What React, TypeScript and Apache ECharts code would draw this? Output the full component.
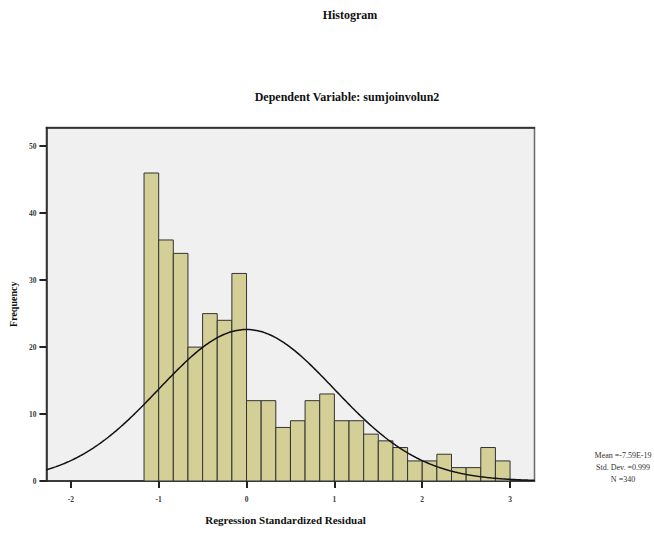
import React, { useEffect, useRef } from "react";
import * as echarts from "echarts";

const TITLE = "Histogram";
const SUBTITLE = "Dependent Variable: sumjoinvolun2";
const X_NAME = "Regression Standardized Residual";
const Y_NAME = "Frequency";

// Histogram bins: start of first bin and bin width, in standardized residual units
const BIN_START = -7 / 6;
const BIN_WIDTH = 1 / 6;
const FREQUENCIES = [46, 36, 34, 20, 25, 24, 31, 12, 12, 8, 9, 12, 13, 9, 9, 7, 6, 5, 3, 3, 4, 2, 2, 5, 3];

const X_TICKS = [-2, -1, 0, 1, 2, 3];
const Y_TICKS = [0, 10, 20, 30, 40, 50];
const X_MIN = -2.278;
const X_MAX = 3.278;
const Y_MAX = 52.8;

const MEAN = -7.59e-19;
const STD_DEV = 0.999;
const N = 340;
const STATS_LINES = ["Mean =-7.59E-19", "Std. Dev. =0.999", "N =340"];

const SERIF = "'Liberation Serif', 'DejaVu Serif', serif";

export default function App() {
  const ref = useRef<HTMLDivElement>(null);

  useEffect(() => {
    document.body.style.margin = "0";
    if (!ref.current) return;
    const chart = echarts.init(ref.current, null, { renderer: "svg" });

    const bins = FREQUENCIES.map((f, i) => [
      BIN_START + i * BIN_WIDTH,
      BIN_START + (i + 1) * BIN_WIDTH,
      f,
    ]);

    // Fitted normal curve scaled to counts (N * binWidth * pdf)
    const curve: number[][] = [];
    const steps = 300;
    for (let k = 0; k <= steps; k++) {
      const x = X_MIN + ((X_MAX - X_MIN) * k) / steps;
      const z = (x - MEAN) / STD_DEV;
      const y = (N * BIN_WIDTH * Math.exp(-0.5 * z * z)) / (STD_DEV * Math.sqrt(2 * Math.PI));
      curve.push([x, y]);
    }

    const axisColor = "#222";
    const labelStyle = { fontFamily: SERIF, fontSize: 7.5, color: "#3a3a3a", fontWeight: "bold" as const };

    chart.setOption({
      animation: false,
      backgroundColor: "#ffffff",
      grid: {
        left: 45.5,
        right: 119.5,
        top: 127.5,
        bottom: 53,
        show: true,
        backgroundColor: "#f0f0f0",
        borderColor: "#6a6a6a",
        borderWidth: 1.5,
      },
      xAxis: [
        {
          type: "value",
          min: X_MIN,
          max: X_MAX,
          name: X_NAME,
          nameLocation: "middle",
          nameGap: 33,
          nameTextStyle: {
            fontFamily: SERIF,
            fontSize: 11,
            fontWeight: "bold",
            color: "#111",
            padding: [0, 10, 0, 0],
          },
          splitLine: { show: false },
          axisLine: { show: true, onZero: false, lineStyle: { color: axisColor, width: 1.5 } },
          axisTick: {
            show: true,
            customValues: X_TICKS,
            length: 7,
            lineStyle: { color: axisColor, width: 2 },
          },
          axisLabel: { ...labelStyle, customValues: X_TICKS, margin: 14 },
        },
        {
          type: "value",
          position: "top",
          min: X_MIN,
          max: X_MAX,
          splitLine: { show: false },
          axisLine: { show: true, onZero: false, lineStyle: { color: axisColor, width: 1.5 } },
          axisTick: { show: false },
          axisLabel: { show: false },
        },
      ],
      yAxis: {
        type: "value",
        min: 0,
        max: Y_MAX,
        name: Y_NAME,
        nameLocation: "middle",
        nameGap: 24,
        nameTextStyle: { fontFamily: SERIF, fontSize: 10, fontWeight: "bold", color: "#111" },
        splitLine: { show: false },
        axisLine: { show: true, onZero: false, lineStyle: { color: axisColor, width: 1.5 } },
        axisTick: {
          show: true,
          customValues: Y_TICKS,
          length: 7,
          lineStyle: { color: axisColor, width: 2 },
        },
        axisLabel: { ...labelStyle, customValues: Y_TICKS, margin: 10 },
      },
      series: [
        {
          type: "custom",
          xAxisIndex: 0,
          data: bins,
          encode: { x: [0, 1], y: 2 },
          renderItem: (params: any, api: any) => {
            const x0 = api.value(0);
            const x1 = api.value(1);
            const v = api.value(2);
            const p0 = api.coord([x0, v]);
            const p1 = api.coord([x1, 0]);
            return {
              type: "rect",
              shape: { x: p0[0], y: p0[1], width: p1[0] - p0[0], height: p1[1] - p0[1] },
              style: { fill: "#d3cf96", stroke: "#333", lineWidth: 1 },
            };
          },
          z: 2,
        },
        {
          type: "line",
          xAxisIndex: 0,
          data: curve,
          showSymbol: false,
          symbol: "none",
          smooth: false,
          lineStyle: { color: "#111", width: 1.5 },
          z: 3,
        },
      ],
      graphic: [
        {
          type: "text",
          x: 350,
          y: 15,
          style: {
            text: TITLE,
            fontFamily: SERIF,
            fontSize: 12,
            fontWeight: "bold",
            fill: "#111",
            textAlign: "center",
            textVerticalAlign: "middle",
          },
        },
        {
          type: "text",
          x: 347,
          y: 97,
          style: {
            text: SUBTITLE,
            fontFamily: SERIF,
            fontSize: 12,
            fontWeight: "bold",
            fill: "#111",
            textAlign: "center",
            textVerticalAlign: "middle",
          },
        },
        ...STATS_LINES.map((t, i) => ({
          type: "text",
          x: 623,
          y: 455 + i * 12.2,
          style: {
            text: t,
            fontFamily: SERIF,
            fontSize: 8,
            fill: "#333",
            textAlign: "center",
            textVerticalAlign: "middle",
          },
        })),
      ],
    });

    return () => chart.dispose();
  }, []);

  return <div ref={ref} style={{ width: 654, height: 534 }} />;
}
